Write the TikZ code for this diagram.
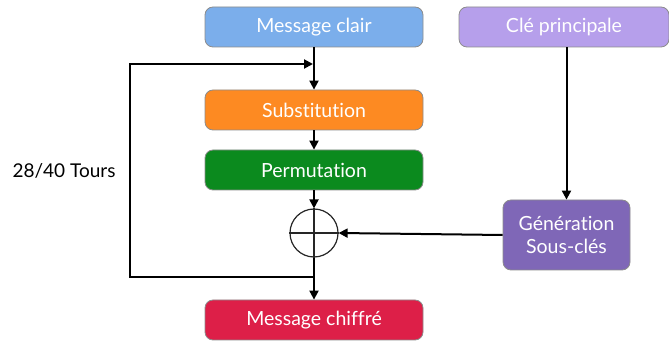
\documentclass[tikz,border=0pt]{standalone}
\usepackage{fontspec}
\setmainfont{Lato}[Ligatures=CommonOff]
\usetikzlibrary{arrows.meta}
\definecolor{cblue}{HTML}{7BAEEB}
\definecolor{corange}{HTML}{FD8A22}
\definecolor{cgreen}{HTML}{0B8A1E}
\definecolor{cred}{HTML}{DD1F48}
\definecolor{clav}{HTML}{B69FEB}
\definecolor{cpurple}{HTML}{7F67B7}
\tikzset{
  block/.style={draw=black!45, line width=0.8pt, rounded corners=8pt,
    minimum width=218pt, minimum height=40pt, text=white,
    font=\fontsize{19.5}{23}\selectfont, inner sep=0pt, align=center},
  link/.style={line width=2pt, -{Triangle[length=9pt,width=9pt]}},
}
\begin{document}
\begin{tikzpicture}[x=1pt,y=-1pt]
  \useasboundingbox (0,0) rectangle (669,344);
  % blocks
  \node[block, fill=cblue] (clair) at (314,27) {Message clair};
  \node[block, fill=clav, minimum width=210pt] (cle) at (564,27) {Clé principale};
  \node[block, fill=corange] (subst) at (314,110) {Substitution};
  \node[block, fill=cgreen] (perm) at (314,170) {Permutation};
  \node[block, fill=cred] (chiffre) at (314,320) {Message chiffré};
  \node[block, fill=cpurple, minimum width=127pt, minimum height=70pt] (gen) at (566.5,235) {Génération\\Sous-clés};
  % xor
  \node[circle, draw=black!85, line width=1.2pt, minimum size=48pt, inner sep=0pt] (xor) at (314,233) {};
  \draw[black!85, line width=1.2pt] (xor.north) -- (xor.south) (xor.west) -- (xor.east);
  % loop corners
  \coordinate (lt) at (130,64);
  \coordinate (lb) at (130,277);
  \coordinate (jt) at (314,64);
  \coordinate (jb) at (314,277);
  % connectors
  \draw[link] (clair.south) -- (subst.north);
  \draw[link] (subst.south) -- (perm.north);
  \draw[link] (perm.south) -- (xor.north);
  \draw[link] (xor.south) -- (chiffre.north);
  \draw[link] (jb) -- (lb) -- (lt) -- ([xshift=-1pt]jt);
  \draw[link] (cle.south -| gen.north) -- (gen.north);
  \draw[link] (gen.west) -- (xor.east);
  % loop label
  \node[font=\fontsize{19}{22}\selectfont, text=black] (tours) at (64,171) {28/40 Tours};
\end{tikzpicture}
\end{document}
